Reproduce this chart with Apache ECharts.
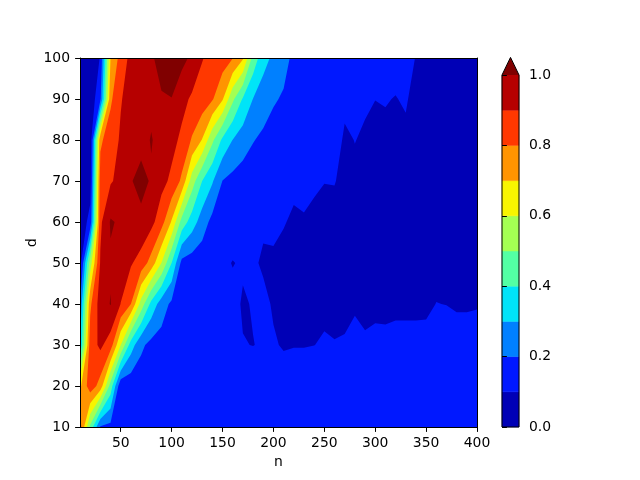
<!DOCTYPE html>
<html><head><meta charset="utf-8">
<script src="https://cdn.jsdelivr.net/npm/echarts@6/dist/echarts.min.js"></script>
<style>html,body{margin:0;padding:0;background:#fff}#c{width:640px;height:480px}</style>
</head><body><div id="c"></div>
<script>
// grid coordinates
const nValues = [10,20,30,40,50,60,70,80,90,100,110,120,130,140,150,160,170,180,190,200,210,220,230,240,250,260,270,280,290,300,310,320,330,340,350,360,370,380,390,400];
const dValues = [10,20,30,40,50,60,70,80,90,100];
// z values, one array per d row, ordered by n
const z_d10 = [0.85,0.48,0.19,0.17,0.16,0.16,0.155,0.155,0.15,0.15,0.152,0.15,0.148,0.15,0.152,0.15,0.148,0.15,0.15,0.152,0.15,0.155,0.15,0.152,0.15,0.15,0.148,0.15,0.152,0.15,0.15,0.152,0.155,0.15,0.15,0.152,0.15,0.15,0.152,0.15];
const z_d20 = [0.68,0.86,0.76,0.46,0.12,0.13,0.14,0.145,0.15,0.15,0.148,0.15,0.148,0.146,0.145,0.145,0.144,0.143,0.142,0.14,0.14,0.142,0.143,0.145,0.14,0.14,0.142,0.15,0.14,0.142,0.14,0.142,0.143,0.145,0.145,0.15,0.15,0.148,0.148,0.15];
const z_d30 = [0.30,0.85,0.92,0.85,0.60,0.35,0.22,0.17,0.16,0.15,0.14,0.13,0.125,0.12,0.115,0.11,0.102,0.099,0.105,0.108,0.093,0.097,0.097,0.0995,0.105,0.102,0.104,0.115,0.105,0.108,0.107,0.109,0.109,0.109,0.11,0.115,0.115,0.112,0.112,0.113];
const z_d40 = [0.20,0.78,0.95,1.005,0.898,0.80,0.56,0.37,0.25,0.18,0.16,0.15,0.14,0.13,0.12,0.115,0.095,0.103,0.119,0.092,0.09,0.09,0.09,0.09,0.09,0.088,0.089,0.094,0.091,0.093,0.093,0.094,0.094,0.094,0.094,0.1005,0.0995,0.097,0.097,0.098];
const z_d50 = [0.05,0.55,0.91,0.985,0.95,0.91,0.86,0.76,0.598,0.40,0.17,0.15,0.14,0.125,0.11,0.098,0.106,0.111,0.09,0.09,0.09,0.089,0.088,0.088,0.088,0.087,0.087,0.088,0.087,0.086,0.086,0.087,0.087,0.088,0.088,0.09,0.088,0.088,0.087,0.087];
const z_d60 = [0.04,0.13,0.88,1.01,0.985,0.97,0.976,0.93,0.84,0.69,0.46,0.35,0.25,0.17,0.15,0.127,0.12,0.115,0.111,0.114,0.102,0.095,0.097,0.094,0.093,0.092,0.09,0.09,0.089,0.089,0.088,0.088,0.087,0.087,0.086,0.086,0.085,0.085,0.085,0.085];
const z_d70 = [0.03,0.06,0.85,0.89,0.93,0.994,1.03,0.99,0.93,0.88,0.78,0.55,0.40,0.31,0.198,0.17,0.15,0.14,0.13,0.125,0.118,0.107,0.11,0.104,0.1005,0.101,0.094,0.095,0.093,0.092,0.09,0.09,0.089,0.088,0.087,0.086,0.085,0.085,0.084,0.084];
const z_d80 = [0.02,0.02,0.78,0.86,0.91,0.95,0.971,1.005,0.97,0.93,0.88,0.79,0.695,0.52,0.38,0.298,0.25,0.205,0.18,0.16,0.15,0.14,0.13,0.12,0.11,0.112,0.096,0.1005,0.097,0.095,0.094,0.095,0.094,0.092,0.09,0.088,0.087,0.086,0.085,0.085];
const z_d90 = [0.03,0.03,0.18,0.78,0.895,0.93,0.95,0.98,0.99,0.998,0.93,0.885,0.86,0.81,0.71,0.52,0.39,0.298,0.25,0.21,0.19,0.16,0.15,0.14,0.13,0.12,0.106,0.104,0.103,0.1002,0.1015,0.099,0.103,0.09,0.088,0.087,0.086,0.085,0.085,0.085];
const z_d100 = [0.03,0.04,0.105,0.702,0.84,0.93,0.96,0.985,1.04,1.05,1.03,0.98,0.905,0.87,0.85,0.803,0.712,0.465,0.335,0.28,0.23,0.18,0.16,0.15,0.14,0.13,0.125,0.12,0.115,0.11,0.11,0.11,0.105,0.0995,0.095,0.093,0.092,0.09,0.09,0.09];
const zRows = [z_d10,z_d20,z_d30,z_d40,z_d50,z_d60,z_d70,z_d80,z_d90,z_d100];

const levels = [0,0.1,0.2,0.3,0.4,0.5,0.6,0.7,0.8,0.9,1.0];
const bandColors = ['#0000b6','#0018ff','#0080ff','#00e4f8','#53ffa4','#a4ff53','#f8f500','#ff9400','#ff3800','#b60000','#800000'];
const xTickValues = [50,100,150,200,250,300,350,400];

const FONT = 'DejaVu Sans';
const FS = 13.9;

function clipPoly(poly, val) {
  const out = [];
  for (let i = 0; i < poly.length; i++) {
    const a = poly[i], b = poly[(i + 1) % poly.length];
    const ina = a[2] >= val, inb = b[2] >= val;
    if (ina) out.push(a);
    if (ina !== inb) {
      const t = (val - a[2]) / (b[2] - a[2]);
      out.push([a[0] + t * (b[0] - a[0]), a[1] + t * (b[1] - a[1]), val]);
    }
  }
  return out;
}

// region of a cell where z >= v, saddles resolved by the cell mean
function aboveRegions(quad, v) {
  const s = quad.map(p => p[2] >= v);
  const cnt = s.filter(x => x).length;
  if (cnt === 0) return [];
  if (cnt === 4) return [quad];
  if (cnt === 2 && s[0] === s[2]) {
    const m = (quad[0][2] + quad[1][2] + quad[2][2] + quad[3][2]) / 4;
    if (m < v) {
      let t1, t2;
      if (s[0]) { t1 = [quad[0], quad[1], quad[3]]; t2 = [quad[1], quad[2], quad[3]]; }
      else { t1 = [quad[0], quad[1], quad[2]]; t2 = [quad[0], quad[2], quad[3]]; }
      return [clipPoly(t1, v), clipPoly(t2, v)].filter(p => p.length >= 3);
    }
  }
  const p = clipPoly(quad, v);
  return p.length >= 3 ? [p] : [];
}

// one item per contour level: all cells' regions with z >= level, filled as one path
const levelItems = levels.map((v, k) => [nValues[0], dValues[0], k]);

function renderLevel(params, api) {
  const k = api.value(2);
  const v = levels[k];
  let d = '';
  for (let j = 0; j < dValues.length - 1; j++) {
    for (let i = 0; i < nValues.length - 1; i++) {
      const quad = [
        [nValues[i], dValues[j], zRows[j][i]],
        [nValues[i + 1], dValues[j], zRows[j][i + 1]],
        [nValues[i + 1], dValues[j + 1], zRows[j + 1][i + 1]],
        [nValues[i], dValues[j + 1], zRows[j + 1][i]]
      ];
      for (const p of aboveRegions(quad, v)) {
        p.forEach((q, idx) => {
          const c = api.coord([q[0], q[1]]);
          d += (idx === 0 ? 'M' : 'L') + c[0].toFixed(2) + ' ' + c[1].toFixed(2) + ' ';
        });
        d += 'Z ';
      }
    }
  }
  if (!d) return null;
  return { type: 'path', shape: { pathData: d }, style: { fill: bandColors[k] } };
}

const cbData = bandColors.map((c, k) => [0.5, levels[k], k]);

function renderBar(params, api) {
  const k = api.value(2);
  const lo = levels[k];
  if (k < levels.length - 1) {
    const hi = levels[k + 1];
    const p0 = api.coord([0, lo]), p1 = api.coord([1, hi]);
    return { type: 'rect', shape: { x: p0[0], y: p1[1], width: p1[0] - p0[0], height: p0[1] - p1[1] },
      style: { fill: bandColors[k], stroke: bandColors[k], lineWidth: 0.5 } };
  }
  const a = api.coord([0, lo]), b = api.coord([1, lo]), base = api.coord([0, levels[0]]);
  const h = 0.05 * (base[1] - a[1]);
  return { type: 'polygon', shape: { points: [a, b, [(a[0] + b[0]) / 2, a[1] - h]] },
    style: { fill: bandColors[k] } };
}

function renderOutline(params, api) {
  const top = levels[levels.length - 1], bot = levels[0];
  const a = api.coord([0, bot]), b = api.coord([0, top]), c = api.coord([1, top]), d = api.coord([1, bot]);
  const h = 0.05 * (a[1] - b[1]);
  return { type: 'polygon', shape: { points: [a, b, [(b[0] + c[0]) / 2, b[1] - h], c, d] },
    style: { fill: 'none', stroke: '#000', lineWidth: 1 } };
}

const chart = echarts.init(document.getElementById('c'), null, { renderer: 'canvas' });
const lbl = { color: '#000', fontFamily: FONT, fontSize: FS };
chart.setOption({
  backgroundColor: '#fff',
  animation: false,
  grid: [
    { left: 80, right: 163, top: 58, bottom: 53 },
    { left: 502, width: 17, top: 75, bottom: 53 }
  ],
  xAxis: [
    { gridIndex: 0, type: 'value', min: 10, max: 400, position: 'bottom', z: 10,
      name: 'n', nameLocation: 'middle', nameGap: 28, nameTextStyle: lbl,
      axisLine: { show: true, lineStyle: { color: '#000', width: 1 } },
      axisTick: { show: true, length: 4.9, lineStyle: { color: '#000', width: 1 }, customValues: xTickValues },
      axisLabel: { ...lbl, margin: 9, customValues: xTickValues },
      splitLine: { show: false } },
    { gridIndex: 0, type: 'value', min: 10, max: 400, position: 'top', z: 10,
      axisLine: { show: true, onZero: false, lineStyle: { color: '#000', width: 1 } },
      axisTick: { show: false }, axisLabel: { show: false }, splitLine: { show: false } },
    { gridIndex: 1, type: 'value', min: 0, max: 1, show: false }
  ],
  yAxis: [
    { gridIndex: 0, type: 'value', min: 10, max: 100, interval: 10, position: 'left', z: 10,
      name: 'd', nameLocation: 'middle', nameGap: 41, nameMoveOverlap: false, nameTextStyle: lbl,
      axisLine: { show: true, lineStyle: { color: '#000', width: 1 } },
      axisTick: { show: true, length: 4.9, lineStyle: { color: '#000', width: 1 } },
      axisLabel: { ...lbl, margin: 10 },
      splitLine: { show: false } },
    { gridIndex: 0, type: 'value', min: 10, max: 100, position: 'right', z: 10,
      axisLine: { show: true, onZero: false, lineStyle: { color: '#000', width: 1 } },
      axisTick: { show: false }, axisLabel: { show: false }, splitLine: { show: false } },
    { gridIndex: 1, type: 'value', min: 0, max: 1, interval: 0.2, position: 'right', z: 10,
      axisLine: { show: false },
      axisTick: { show: true, length: 4.9, lineStyle: { color: '#000', width: 1 } },
      axisLabel: { ...lbl, margin: 10, formatter: v => v.toFixed(1) },
      splitLine: { show: false } }
  ],
  series: [
    { type: 'custom', xAxisIndex: 0, yAxisIndex: 0, data: levelItems, encode: { x: 0, y: 1 },
      renderItem: renderLevel, clip: true, silent: true },
    { type: 'custom', xAxisIndex: 2, yAxisIndex: 2, data: cbData, encode: { x: 0, y: 1 },
      renderItem: renderBar, clip: false, silent: true },
    { type: 'custom', xAxisIndex: 2, yAxisIndex: 2, data: [[0.5, 0.5]], encode: { x: 0, y: 1 },
      renderItem: renderOutline, clip: false, silent: true, z: 5 }
  ]
});
</script>
</body></html>
